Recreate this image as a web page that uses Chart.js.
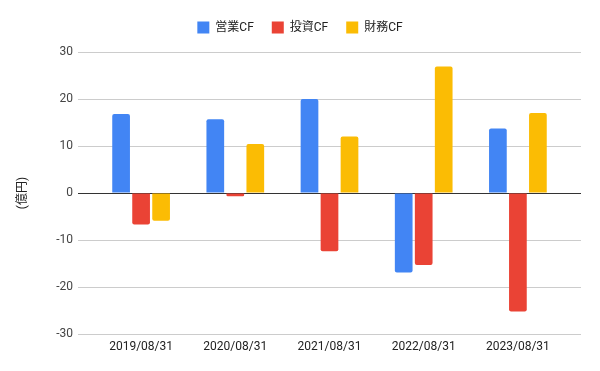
<!DOCTYPE html>
<html>
<head>
<meta charset="utf-8">
<script src="https://cdn.jsdelivr.net/npm/chart.js@4/dist/chart.umd.min.js"></script>
<style>
  html, body { margin: 0; padding: 0; background: #fff; }
  #wrap { width: 600px; height: 371px; }
</style>
</head>
<body>
<div id="wrap"><canvas id="myChart"></canvas></div>
<script>
const labels = ["2019/08/31", "2020/08/31", "2021/08/31", "2022/08/31", "2023/08/31"];
const eigyoCF = [16.8, 15.7, 20.0, -16.9, 13.7];
const toshiCF = [-6.7, -0.7, -12.4, -15.3, -25.2];
const zaimuCF = [-5.9, 10.4, 12.0, 26.9, 17.0];
const yTicks = { min: -30, max: 30, step: 10 };

const font = 'Roboto, "Noto Sans CJK JP", sans-serif';

function gridColor(ctx) {
  return ctx.tick && ctx.tick.value === 0 ? "#333333" : "#cccccc";
}

function makeSet(label, data, color) {
  return {
    label: label,
    data: data,
    backgroundColor: color,
    borderRadius: 2,
    categoryPercentage: 0.637,
    barPercentage: 0.885,
    yAxisID: "y",
  };
}

// a bit more room under the legend
const legendGap = {
  id: "legendGap",
  beforeInit(chart) {
    const fit = chart.legend.fit;
    chart.legend.fit = function () {
      fit.bind(chart.legend)();
      this.height += 8.5;
    };
  },
};

let ctx = document.getElementById("myChart").getContext("2d");

let myChart = new Chart(ctx, {
  type: "bar",
  data: {
    labels: labels,
    datasets: [
      makeSet("営業CF", eigyoCF, "#4285f4"),
      makeSet("投資CF", toshiCF, "#ea4335"),
      makeSet("財務CF", zaimuCF, "#fbbc04"),
    ],
  },
  plugins: [legendGap],
  options: {
    responsive: true,
    maintainAspectRatio: false,
    animation: false,
    layout: { padding: { top: 3.5, left: 0, right: 0, bottom: 10.6 } },
    plugins: {
      legend: {
        position: "top",
        labels: {
          boxWidth: 12,
          boxHeight: 12,
          padding: 18,
          color: "#222222",
          font: { family: font, size: 12 },
        },
      },
      tooltip: { enabled: false },
    },
    scales: {
      x: {
        grid: { display: false, drawTicks: false },
        border: { display: false },
        ticks: { padding: 6, color: "#222222", font: { family: font, size: 12 } },
      },
      y: {
        position: "left",
        min: yTicks.min,
        max: yTicks.max,
        ticks: {
          stepSize: yTicks.step,
          padding: 5,
          color: "#444444",
          font: { family: font, size: 12 },
        },
        grid: { color: gridColor, tickLength: 16, drawTicks: true, lineWidth: 1 },
        border: { display: false },
        title: {
          display: true,
          text: "(億円)",
          color: "#222222",
          font: { family: font, size: 12 },
          padding: { top: 16, bottom: 0 },
        },
        afterFit: (scale) => { scale.width = 94; },
      },
      y2: {
        position: "right",
        min: yTicks.min,
        max: yTicks.max,
        ticks: { display: false, stepSize: yTicks.step },
        grid: { color: gridColor, tickLength: 16, drawTicks: true, drawOnChartArea: false },
        border: { display: false },
        afterFit: (scale) => { scale.width = 35; },
      },
    },
  },
});
</script>
</body>
</html>
